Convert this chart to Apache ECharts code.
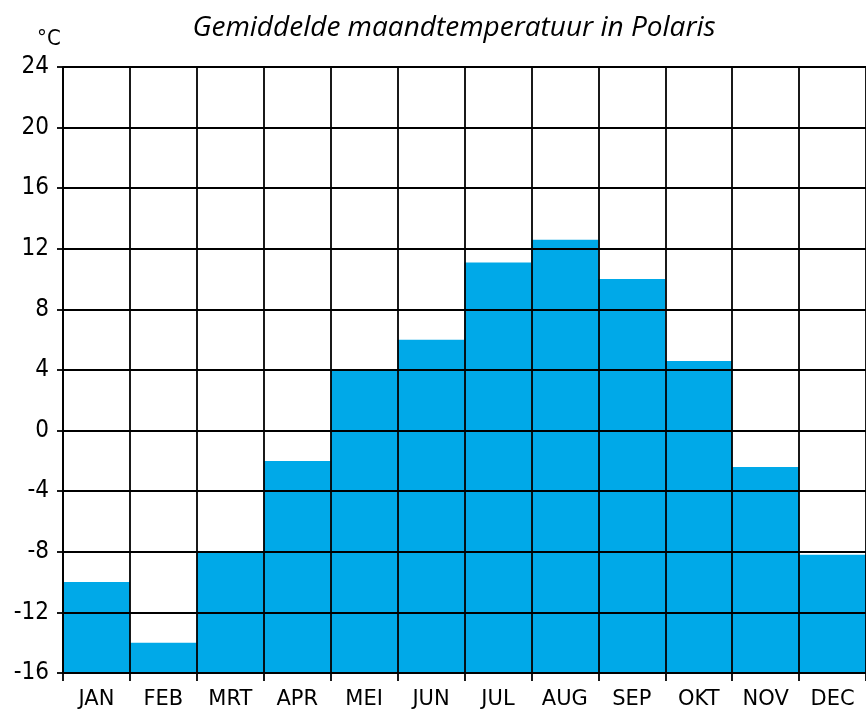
<!DOCTYPE html>
<html>
<head>
<meta charset="utf-8">
<script src="https://cdn.jsdelivr.net/npm/echarts@6/dist/echarts.min.js"></script>
<style>
  html, body { margin: 0; padding: 0; background: #fff; }
  #chart { width: 866px; height: 715px; }
</style>
</head>
<body>
<div id="chart"></div>
<script>
// maanden en gemiddelde temperatuur (°C)
const months = ['JAN', 'FEB', 'MRT', 'APR', 'MEI', 'JUN', 'JUL', 'AUG', 'SEP', 'OKT', 'NOV', 'DEC']
const temps = [-10, -14, -8, -2, 4, 6, 11.1, 12.6, 10, 4.6, -2.4, -8.2]
const yMin = -16
const yMax = 24
const yStep = 4

const myChart = echarts.init(document.getElementById('chart'))

const labelFont = '"DejaVu Sans Condensed", "DejaVu Sans"'
const lineStyle = { color: '#000', width: 1.8 }

myChart.setOption({
  animation: false,
  title: {
    text: 'Gemiddelde maandtemperatuur in Polaris',
    left: 449,
    top: 9,
    textAlign: 'center',
    textStyle: {
      fontFamily: 'Open Sans',
      fontStyle: 'italic',
      fontWeight: 'normal',
      fontSize: 28,
      color: '#000'
    }
  },
  graphic: [{
    type: 'text',
    left: 37,
    top: 28,
    style: { text: '°C', font: '22px "DejaVu Sans Condensed", "DejaVu Sans"', fill: '#000' }
  }],
  grid: { left: 63, top: 67, width: 806, height: 606 },
  xAxis: {
    type: 'category',
    data: months,
    z: 10,
    boundaryGap: true,
    axisLine: { onZero: false, lineStyle },
    axisTick: { show: true, length: 8, lineStyle },
    axisLabel: { color: '#000', fontFamily: 'DejaVu Sans', fontSize: 21, margin: 16 },
    splitLine: { show: true, lineStyle }
  },
  yAxis: {
    type: 'value',
    min: yMin,
    max: yMax,
    interval: yStep,
    z: 10,
    axisLine: { show: true, lineStyle },
    axisTick: { show: true, length: 6, lineStyle },
    axisLabel: { color: '#000', fontFamily: labelFont, fontSize: 24, margin: 14 },
    splitLine: { show: true, lineStyle }
  },
  series: [{
    type: 'custom',
    z: 2,
    data: temps.map((v, i) => [i, v]),
    renderItem(params, api) {
      const start = api.coord([api.value(0), yMin])
      const end = api.coord([api.value(0), api.value(1)])
      const w = api.size([1, 0])[0]
      return {
        type: 'rect',
        shape: { x: start[0] - w / 2, y: end[1], width: w, height: start[1] - end[1] },
        style: { fill: '#00a9e8' }
      }
    }
  }]
})
</script>
</body>
</html>
